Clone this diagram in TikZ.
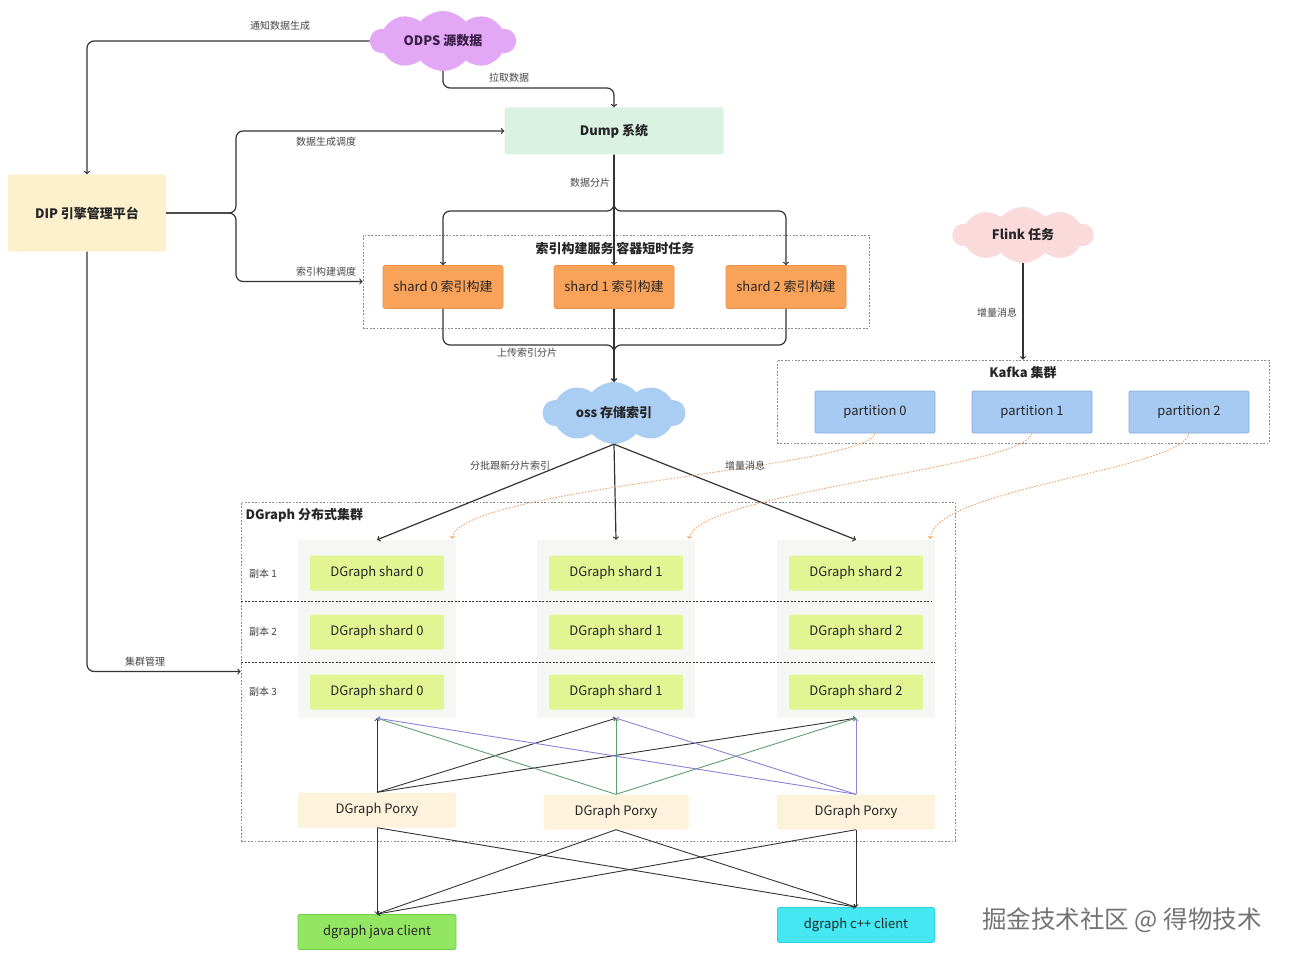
\documentclass[tikz,border=0pt]{standalone}
\usepackage{fontspec}
\setmainfont{Noto Sans CJK SC}
\usepackage{xcolor}
\usepackage{tikz}
\usetikzlibrary{shapes.symbols}
\usetikzlibrary{positioning,calc}

\definecolor{odpsfill}{HTML}{E2A8F6}
\definecolor{odpstext}{HTML}{3A1F47}
\definecolor{flinkfill}{HTML}{FADADB}
\definecolor{ossfill}{HTML}{A9CDF3}
\definecolor{dipfill}{HTML}{FCF1CC}
\definecolor{dumpfill}{HTML}{D9F2E1}
\definecolor{shardfill}{HTML}{F9A25A}
\definecolor{sharddraw}{HTML}{EE9046}
\definecolor{partfill}{HTML}{A7CAF2}
\definecolor{partdraw}{HTML}{82ACDD}
\definecolor{dgfill}{HTML}{E3F593}
\definecolor{colbg}{HTML}{F6F7F5}
\definecolor{proxyfill}{HTML}{FDF3DC}
\definecolor{javafill}{HTML}{92E662}
\definecolor{javadraw}{HTML}{70CC4C}
\definecolor{cppfill}{HTML}{45E8F2}
\definecolor{cppdraw}{HTML}{2FD0E0}
\definecolor{linedark}{HTML}{333333}
\definecolor{linegreen}{HTML}{609E70}
\definecolor{linepurple}{HTML}{8C80D8}
\definecolor{kafkaline}{HTML}{F0A266}
\definecolor{boxgray}{HTML}{8A8A8A}
\definecolor{textdark}{HTML}{262626}
\definecolor{textgray}{HTML}{444444}

\newcommand{\setfs}[1]{\fontsize{#1}{#1}\selectfont}

\tikzset{
  cloudnode/.style={cloud, cloud puffs=10, cloud puff arc=100, aspect=2.5,
    inner sep=0pt, font=\bfseries\setfs{13}, text=textdark},
  box/.style={rectangle, rounded corners=2pt, inner sep=0pt,
    font=\setfs{13}, text=textdark},
  boldbox/.style={box, font=\bfseries\setfs{13}},
  shardbox/.style={box, fill=shardfill, draw=sharddraw, line width=0.6pt,
    minimum width=120pt, minimum height=43pt},
  partbox/.style={box, fill=partfill, draw=partdraw, line width=0.8pt,
    minimum width=120pt, minimum height=42pt},
  colpanel/.style={rectangle, fill=colbg, minimum width=158pt, minimum height=178pt},
  dgbox/.style={box, fill=dgfill, minimum width=134pt, minimum height=35pt},
  proxybox/.style={box, fill=proxyfill, minimum width=158pt, minimum height=35pt},
  container/.style={draw=boxgray, dash pattern=on 1.8pt off 1.6pt,
    line width=0.7pt, inner sep=0pt},
  title/.style={font=\bfseries\setfs{13}, text=textdark},
  small/.style={font=\setfs{10}, text=textgray},
  conn/.style={draw=linedark, line width=1.2pt, rounded corners=7pt, ->},
  kafkaflow/.style={draw=kafkaline, line width=0.9pt, dash pattern=on 1.5pt off 1.5pt, ->},
  meshup/.style={line width=0.9pt, ->},
  meshdown/.style={draw=linedark, line width=0.9pt, ->},
  sep/.style={draw=linedark, dash pattern=on 2pt off 1.5pt, line width=0.8pt},
}

\begin{document}
\begin{tikzpicture}[x=1pt, y=-1pt]
    \useasboundingbox (0,0) rectangle (1290,960);
    % Containers
    \node [container, minimum width=506pt, minimum height=93pt] (build) at (616,281.5) {};
    \node [title] (buildtitle) at (615,248) {索引构建服务 容器短时任务};
    \node [container, minimum width=492pt, minimum height=83pt] (kafka) at (1023,401.5) {};
    \node [title] (kafkatitle) at (1023,373) {Kafka 集群};
    \node [container, minimum width=714pt, minimum height=339pt] (dgraph) at (598,671.5) {};
    \node [title, anchor=west] (dgraphtitle) at (242,515) {DGraph 分布式集群};
    % Clouds
    \node [cloudnode, fill=odpsfill, text=odpstext, minimum width=145pt, minimum height=60pt]
        (odps) at (443,41) {ODPS 源数据};
    \node [cloudnode, fill=flinkfill, minimum width=140pt, minimum height=56pt]
        (flink) at (1023,235) {Flink 任务};
    \node [cloudnode, fill=ossfill, minimum width=142pt, minimum height=62pt]
        (oss) at (614,413) {oss 存储索引};
    % Boxes
    \node [boldbox, fill=dipfill, minimum width=158pt, minimum height=77pt] (dip) at (87,213) {DIP 引擎管理平台};
    \node [boldbox, fill=dumpfill, minimum width=219pt, minimum height=47pt] (dump) at (614,131) {Dump 系统};
    \foreach \i/\x in {0/443,1/614,2/786}
        \node [shardbox] (shard\i) at (\x,287) {shard \i\ 索引构建};
    \foreach \i/\x in {0/875,1/1032,2/1189}
        \node [partbox] (part\i) at (\x,412) {partition \i};
    % DGraph columns
    \foreach \i/\x in {0/377,1/616,2/856}
    {
    \node [colpanel] (col\i) at (\x,629) {};
    \foreach \r/\y in {1/573,2/632,3/692}
        \node [dgbox] (dg\r\i) at (\x,\y) {DGraph shard \i};
    }
    \foreach \r/\y in {1/574,2/632,3/692}
        \node [small] (rep\r) at (263,\y) {副本 \r};
    \draw [sep] (241,601) -- (932,601);
    \draw [sep] (241,662) -- (935,662);
    \node [proxybox] (proxy0) at (377,810) {DGraph Porxy};
    \node [proxybox, minimum width=145pt] (proxy1) at (616,812) {DGraph Porxy};
    \node [proxybox] (proxy2) at (856,812) {DGraph Porxy};
    % Clients
    \node [box, fill=javafill, draw=javadraw, line width=0.8pt, minimum width=158pt, minimum height=35pt]
        (java) at (377,932) {dgraph java client};
    \node [box, fill=cppfill, draw=cppdraw, line width=0.8pt, minimum width=157pt, minimum height=35pt]
        (cpp) at (856,925) {dgraph c++ client};
    % Top flow
    \draw [conn] (odps.west) -| (dip.north);
    \draw [conn] (odps.south) -- (443,88) -| (dump.north);
    \draw [conn] (dip.east) -- (236,213) |- (dump.west);
    \draw [conn] (dip.east) -- (236,213) |- (build.west);
    \draw [conn] (dump.south) -- (614,211) -| (shard0.north);
    \draw [conn] (dump.south) -- (614,211) -| (shard2.north);
    \draw [conn] (dump.south) -- (shard1.north);
    \draw [conn] (shard0.south) -- (443,345) -| (oss.north);
    \draw [conn] (shard2.south) -- (786,345) -| (oss.north);
    \draw [conn] (shard1.south) -- (oss.north);
    \draw [conn] (flink.south) -- (kafka.north);
    \draw [conn] (dip.south) |- (dgraph.west);
    % Index to DGraph
    \foreach \i in {0,1,2}
        \draw [conn] (oss.south) -- (col\i.north);
    \draw [kafkaflow] (part0.south) .. controls (868,468) and (456,488) .. ($(col0.north east)+(-4,-1)$);
    \draw [kafkaflow] (part1.south) .. controls (1025,468) and (696,492) .. ($(col1.north east)+(-6,-1)$);
    \draw [kafkaflow] (part2.south) .. controls (1182,470) and (934,488) .. ($(col2.north east)+(-5,-1)$);
    % Proxies
    \foreach \p/\c in {0/linedark,1/linegreen,2/linepurple}
        \foreach \j in {0,1,2}
            \draw [meshup, draw=\c] (proxy\p.north) -- (col\j.south);
    \foreach \p in {0,1,2}
    {
    \draw [meshdown] (proxy\p.south) -- (java.north);
    \draw [meshdown] (proxy\p.south) -- (cpp.north);
    }
    % Labels
    \node [small] (lbnotify) at (280,26) {通知数据生成};
    \node [small] (lbpull) at (509,78) {拉取数据};
    \node [small] (lbsched) at (326,142) {数据生成调度};
    \node [small] (lbbuild) at (326,272) {索引构建调度};
    \node [small] (lbsplit) at (590,183) {数据分片};
    \node [small] (lbupload) at (527,353) {上传索引分片};
    \node [small] (lbflink) at (997,313) {增量消息};
    \node [small] (lbbatch) at (510,466) {分批跟新分片索引};
    \node [small] (lbdelta) at (745,466) {增量消息};
    \node [small] (lbmanage) at (145,662) {集群管理};
    \node [font=\setfs{24.5}, text=black!55] (mark) at (1122,920) {掘金技术社区 @ 得物技术};

\end{tikzpicture}
\end{document}
